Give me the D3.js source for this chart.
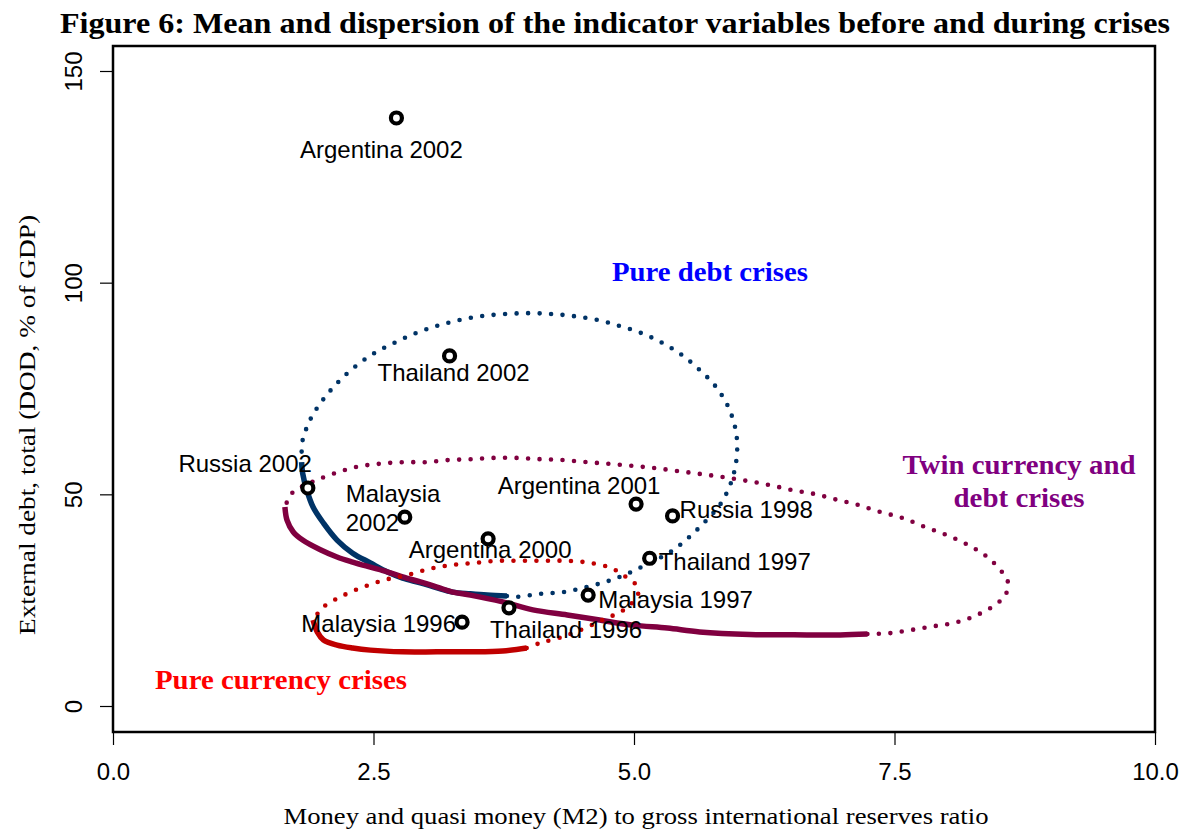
<!DOCTYPE html>
<html>
<head>
<meta charset="utf-8">
<script src="https://cdn.jsdelivr.net/npm/d3@7"></script>
<style>
  html, body { margin: 0; padding: 0; background: #fff; }
  svg { display: block; }
</style>
</head>
<body>
<svg id="chart" width="1185" height="832"></svg>
<script>
// Crisis episodes: M2 / reserves ratio (x) and external debt, % of GDP (y)
const episodes = ["Argentina 2002", "Thailand 2002", "Russia 2002", "Malaysia 2002",
  "Argentina 2000", "Argentina 2001", "Russia 1998", "Thailand 1997",
  "Malaysia 1997", "Thailand 1996", "Malaysia 1996"];
const m2Ratio = [2.72, 3.23, 1.87, 2.80, 3.60, 5.02, 5.37, 5.15, 4.56, 3.80, 3.35];
const extDebt = [138.9, 82.7, 51.5, 44.6, 39.5, 47.7, 44.9, 34.9, 26.2, 23.2, 19.8];

// Axis ticks
const xTicks = [0, 2.5, 5, 7.5, 10];
const xTickLabels = ["0.0", "2.5", "5.0", "7.5", "10.0"];
const yTicks = [0, 50, 100, 150];
const yTickLabels = ["0", "50", "100", "150"];

// Dispersion contours, [x, y] in data units; solid arc then dotted remainder
const debtSolid = [[1.81,57.6],[1.82,55.0],[1.86,51.0],[1.92,47.0],[2.02,43.2],[2.15,39.2],
  [2.30,36.1],[2.47,33.8],[2.63,31.7],[2.78,30.2],[2.95,29.1],[3.11,27.9],[3.26,26.9],
  [3.43,26.5],[3.59,26.2],[3.78,26.0]];
const debtDotted = [[3.78,26.0],[3.88,25.8],[4.10,26.5],[4.32,26.9],[4.54,28.1],[4.75,29.5],
  [4.95,31.4],[5.15,33.8],[5.35,36.4],[5.52,39.7],[5.68,43.5],[5.83,47.7],[5.93,52.7],
  [5.98,57.6],[5.99,62.0],[5.97,65.9],[5.90,70.9],[5.78,75.6],[5.62,79.6],[5.46,82.9],
  [5.27,85.8],[5.07,88.1],[4.86,89.8],[4.65,91.2],[4.42,92.1],[4.21,92.6],[3.99,92.8],
  [3.76,92.6],[3.54,92.1],[3.33,91.2],[3.11,89.8],[2.91,88.1],[2.70,85.8],[2.51,83.4],
  [2.32,80.1],[2.16,76.5],[2.02,72.5],[1.90,68.0],[1.82,62.8],[1.81,59.8],[1.81,57.6]];

const twinSolid = [[1.65,47.0],[1.67,43.9],[1.73,41.1],[1.82,39.2],[1.99,36.9],[2.15,35.2],
  [2.30,34.0],[2.47,32.8],[2.63,31.7],[2.78,30.5],[2.95,29.3],[3.11,28.1],[3.26,26.9],
  [3.43,26.2],[3.74,24.6],[4.03,22.7],[4.36,21.5],[4.67,20.3],[4.99,19.1],[5.32,18.4],
  [5.63,17.5],[6.11,16.9],[6.66,16.8],[6.98,16.8],[7.24,17.0]];
const twinDotted = [[7.24,17.0],[7.45,17.2],[7.67,18.0],[7.89,18.9],[8.10,19.8],[8.31,21.7],
  [8.49,24.3],[8.57,26.5],[8.59,29.1],[8.54,31.4],[8.39,35.2],[8.21,38.0],[8.00,40.4],
  [7.79,42.3],[7.58,44.4],[7.37,45.8],[7.15,47.5],[6.95,48.7],[6.73,50.1],[6.52,51.0],
  [6.30,52.2],[6.08,53.2],[5.85,54.1],[5.64,54.8],[5.42,55.5],[5.20,56.2],[4.99,56.7],
  [4.76,57.2],[4.55,57.6],[4.32,58.1],[4.10,58.3],[3.88,58.6],[3.65,58.6],[3.44,58.3],
  [3.22,58.1],[3.00,57.6],[2.78,57.6],[2.55,57.2],[2.34,56.5],[2.13,55.0],[1.91,52.9],
  [1.73,50.6],[1.67,48.2],[1.65,47.0]];

const currencySolid = [[1.92,20.3],[1.96,17.5],[2.02,15.6],[2.15,14.4],[2.30,13.7],[2.47,13.2],
  [2.78,12.8],[3.11,12.8],[3.43,12.8],[3.74,13.0],[3.97,13.7]];
const currencyDotted = [[3.97,13.7],[4.10,14.9],[4.31,16.3],[4.53,18.4],[4.72,20.6],[4.87,22.2],
  [4.98,24.3],[5.04,26.5],[5.02,28.6],[4.91,30.7],[4.78,32.6],[4.58,33.8],[4.36,34.3],
  [4.13,34.3],[3.91,34.3],[3.69,34.3],[3.47,33.8],[3.25,33.3],[3.04,32.4],[2.82,30.9],
  [2.61,29.8],[2.40,28.1],[2.20,26.0],[2.02,23.4],[1.96,21.7],[1.92,20.3]];

// Label placement for each episode (pixel offsets from the marker)
const labelPlacement = {
  "Argentina 2002": {dx: -15, dy: 40, anchor: "middle"},
  "Thailand 2002": {dx: 4, dy: 25, anchor: "middle"},
  "Russia 2002": {dx: 4, dy: -16, anchor: "end"},
  "Malaysia 2002": {dx: -59, dy: -15, anchor: "start", lines: ["Malaysia", "2002"]},
  "Argentina 2000": {dx: 2, dy: 19, anchor: "middle"},
  "Argentina 2001": {dx: -57, dy: -10, anchor: "middle"},
  "Russia 1998": {dx: 7, dy: 2, anchor: "start"},
  "Thailand 1997": {dx: 9, dy: 12, anchor: "start"},
  "Malaysia 1997": {dx: 10, dy: 13, anchor: "start"},
  "Thailand 1996": {dx: -19, dy: 30, anchor: "start"},
  "Malaysia 1996": {dx: -6, dy: 10, anchor: "end"}
};

const svg = d3.select("#chart");
const plot = {left: 113, right: 1155, top: 46, bottom: 732};

const x = d3.scaleLinear().domain([0, 10]).range([plot.left, plot.right]);
const y = d3.scaleLinear().domain([0, 150]).range([706, 71]);

const sansFont = "'Liberation Sans', Arial, sans-serif";
const serifFont = "'Liberation Serif', 'Times New Roman', serif";

// Title
svg.append("text")
  .attr("x", 615).attr("y", 33)
  .attr("text-anchor", "middle")
  .attr("textLength", 1110).attr("lengthAdjust", "spacingAndGlyphs")
  .style("font-family", serifFont).style("font-weight", "bold").style("font-size", "30px")
  .text("Figure 6: Mean and dispersion of the indicator variables before and during crises");

// Axes
const xAxis = d3.axisBottom(x).tickValues(xTicks)
  .tickFormat((d, i) => xTickLabels[i]).tickSize(13).tickSizeOuter(0);
const gx = svg.append("g").attr("transform", `translate(0,${plot.bottom})`).call(xAxis);
gx.select(".domain").remove();
gx.selectAll(".tick line").attr("stroke", "#000").attr("stroke-width", 1.2);
gx.selectAll(".tick text")
  .attr("y", 48).attr("dy", null)
  .style("font-family", sansFont).style("font-size", "24px").attr("fill", "#000");

const yAxis = d3.axisLeft(y).tickValues(yTicks)
  .tickFormat((d, i) => yTickLabels[i]).tickSize(13).tickSizeOuter(0);
const gy = svg.append("g").attr("transform", `translate(${plot.left},0)`).call(yAxis);
gy.select(".domain").remove();
gy.selectAll(".tick line").attr("stroke", "#000").attr("stroke-width", 1.2);
gy.selectAll(".tick text")
  .attr("x", null).attr("dy", null)
  .attr("text-anchor", "middle")
  .attr("transform", "translate(-31,0) rotate(-90)")
  .style("font-family", sansFont).style("font-size", "24px").attr("fill", "#000");

// Plot frame
svg.append("rect")
  .attr("x", plot.left).attr("y", plot.top)
  .attr("width", plot.right - plot.left).attr("height", plot.bottom - plot.top)
  .attr("fill", "none").attr("stroke", "#000").attr("stroke-width", 2.5);

// Axis titles
svg.append("text")
  .attr("x", 636).attr("y", 824)
  .attr("text-anchor", "middle")
  .attr("textLength", 705).attr("lengthAdjust", "spacingAndGlyphs")
  .style("font-family", serifFont).style("font-size", "24px")
  .text("Money and quasi money (M2) to gross international reserves ratio");

svg.append("text")
  .attr("transform", "translate(35,425) rotate(-90)")
  .attr("text-anchor", "middle")
  .attr("textLength", 420).attr("lengthAdjust", "spacingAndGlyphs")
  .style("font-family", serifFont).style("font-size", "24px")
  .text("External debt, total (DOD, % of GDP)");

// Contours
const line = d3.line().x(d => x(d[0])).y(d => y(d[1])).curve(d3.curveCatmullRom.alpha(0.5));
const contours = [
  {solid: debtSolid, dotted: debtDotted, color: "#003366"},
  {solid: twinSolid, dotted: twinDotted, color: "#800040"},
  {solid: currencySolid, dotted: currencyDotted, color: "#c00000"}
];
const gc = svg.append("g");
contours.forEach(c => {
  gc.append("path").attr("d", line(c.dotted))
    .attr("fill", "none").attr("stroke", c.color)
    .attr("stroke-width", 4.6).attr("stroke-linecap", "round")
    .attr("stroke-dasharray", "0 11.5");
  gc.append("path").attr("d", line(c.solid))
    .attr("fill", "none").attr("stroke", c.color)
    .attr("stroke-width", 5.5).attr("stroke-linecap", "butt");
});

// Group annotations
const annotations = svg.append("g")
  .style("font-family", serifFont).style("font-weight", "bold").style("font-size", "28px")
  .attr("text-anchor", "middle");
const notes = [
  {x: 710, y: 281, color: "#0000ff", len: 196, text: "Pure debt crises"},
  {x: 1019, y: 474, color: "#800080", len: 233, text: "Twin currency and"},
  {x: 1019, y: 507, color: "#800080", len: 131, text: "debt crises"},
  {x: 281, y: 689, color: "#ff0000", len: 252, text: "Pure currency crises"}
];
notes.forEach(n => {
  annotations.append("text").attr("x", n.x).attr("y", n.y).attr("fill", n.color)
    .attr("textLength", n.len).attr("lengthAdjust", "spacingAndGlyphs").text(n.text);
});

// Episode markers and labels
const pts = episodes.map((name, i) => ({name, x: m2Ratio[i], y: extDebt[i]}));
const gl = svg.append("g").style("font-family", sansFont).style("font-size", "24px");
pts.forEach(p => {
  const lp = labelPlacement[p.name];
  const t = gl.append("text")
    .attr("x", x(p.x) + lp.dx).attr("y", y(p.y) + lp.dy)
    .attr("text-anchor", lp.anchor).attr("fill", "#000");
  if (lp.lines) {
    lp.lines.forEach((ln, k) => {
      t.append("tspan").attr("x", x(p.x) + lp.dx).attr("dy", k === 0 ? 0 : 29).text(ln);
    });
  } else {
    t.text(p.name);
  }
});
svg.append("g").selectAll("circle").data(pts).join("circle")
  .attr("cx", d => x(d.x)).attr("cy", d => y(d.y)).attr("r", 5.5)
  .attr("fill", "#fff").attr("stroke", "#000").attr("stroke-width", 4.2);
</script>
</body>
</html>
